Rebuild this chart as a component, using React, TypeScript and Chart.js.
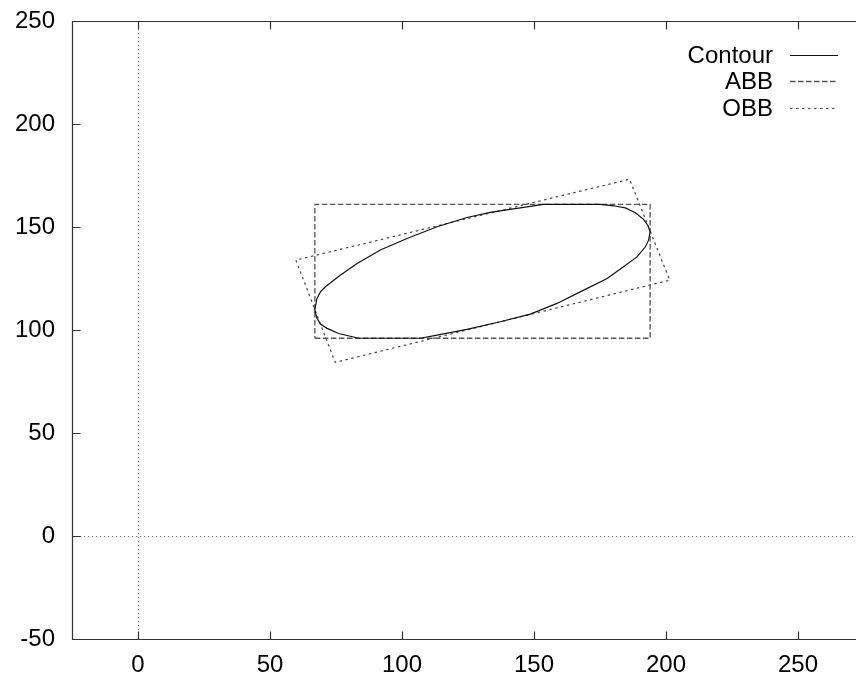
import React, { useEffect, useRef } from "react";
import { Chart, registerables } from "chart.js";

Chart.register(...registerables);

// ---- data ----
const xRange = [-25, 275];
const yRange = [-50, 250];
const xTickValues = [0, 50, 100, 150, 200, 250];
const yTickValues = [-50, 0, 50, 100, 150, 200, 250];

const seriesLabels = ["Contour", "ABB", "OBB"];

const contourX = [
  66.9, 67.8, 69.1, 71.0, 76.6, 83.0, 91.8, 101.9, 113.3, 124.6, 133.4, 153.6,
  175.1, 180.2, 184.6, 188.4, 191.5, 193.2, 194.0, 193.4, 192.2, 189.0, 183.9,
  177.7, 167.5, 158.7, 148.6, 137.2, 124.6, 113.3, 106.9, 83.6, 76.0, 71.6,
  69.1, 67.8, 66.9,
];
const contourY = [
  109.7, 115.3, 118.5, 121.0, 126.6, 132.3, 138.8, 144.4, 150.1, 154.6, 157.1,
  161.0, 161.0, 160.3, 159.3, 156.9, 153.7, 150.6, 147.6, 143.6, 140.4, 135.5,
  130.7, 125.0, 118.5, 112.9, 107.7, 104.0, 100.3, 97.5, 96.0, 96.0, 98.3,
  100.8, 102.9, 105.7, 109.7,
];

const abbX = [67, 194, 194, 67, 67];
const abbY = [96, 96, 161, 161, 96];

const obbX = [59.8, 74.7, 201.4, 186.2, 59.8];
const obbY = [133.9, 84.3, 124.2, 173.2, 133.9];

// ---- styling ----
const FONT = "'Liberation Sans', Arial, Helvetica, sans-serif";
const FONT_SIZE = 24;

const toPoints = (xs: number[], ys: number[]) =>
  xs.map((x, i) => ({ x, y: ys[i] }));

const gnuplotPlugin = {
  id: "gnuplotDecor",
  beforeDatasetsDraw(chart: any) {
    const { ctx, chartArea: a, scales } = chart;
    const xs = scales.x;
    const ys = scales.y;
    ctx.save();
    ctx.strokeStyle = "#777";
    ctx.lineWidth = 1;
    ctx.setLineDash([1.3, 2.7]);
    const x0 = Math.round(xs.getPixelForValue(0)) + 0.5;
    const y0 = Math.round(ys.getPixelForValue(0)) + 0.5;
    ctx.beginPath();
    ctx.moveTo(x0, a.top);
    ctx.lineTo(x0, a.bottom);
    ctx.moveTo(a.left, y0);
    ctx.lineTo(a.right, y0);
    ctx.stroke();
    ctx.restore();
  },
  afterDatasetsDraw(chart: any) {
    const { ctx, chartArea: a, scales } = chart;
    const xs = scales.x;
    const ys = scales.y;
    const L = Math.round(a.left) + 0.5;
    const R = Math.round(a.right) + 0.5;
    const T = Math.round(a.top) + 0.5;
    const B = Math.round(a.bottom) + 0.5;
    const tick = 8;
    ctx.save();
    ctx.setLineDash([]);
    ctx.strokeStyle = "#333";
    ctx.lineWidth = 1.2;
    ctx.beginPath();
    ctx.rect(L, T, R - L, B - T);
    for (const v of xTickValues) {
      const px = Math.round(xs.getPixelForValue(v)) + 0.5;
      ctx.moveTo(px, B);
      ctx.lineTo(px, B - tick);
      ctx.moveTo(px, T);
      ctx.lineTo(px, T + tick);
    }
    for (const v of yTickValues) {
      const py = Math.round(ys.getPixelForValue(v)) + 0.5;
      ctx.moveTo(L, py);
      ctx.lineTo(L + tick, py);
      ctx.moveTo(R, py);
      ctx.lineTo(R - tick, py);
    }
    ctx.stroke();

    // legend (gnuplot style: right-aligned text, sample line after it)
    const textRight = a.right - 91;
    const lineStart = a.right - 74;
    const lineEnd = a.right - 26;
    const rowTop = a.top + 33.5;
    const rowGap = 26.7;
    ctx.font = `${FONT_SIZE}px ${FONT}`;
    ctx.textAlign = "right";
    ctx.textBaseline = "middle";
    chart.data.datasets.forEach((ds: any, i: number) => {
      const yy = Math.round(rowTop + i * rowGap) + 0.5;
      ctx.fillStyle = "#000";
      ctx.fillText(ds.label, textRight, yy + 1);
      ctx.strokeStyle = ds.borderColor;
      ctx.lineWidth = ds.borderWidth;
      ctx.setLineDash(ds.borderDash || []);
      ctx.beginPath();
      ctx.moveTo(lineStart, yy);
      ctx.lineTo(lineEnd, yy);
      ctx.stroke();
    });
    ctx.restore();
  },
};

export default function App() {
  const canvasRef = useRef<HTMLCanvasElement | null>(null);

  useEffect(() => {
    if (!canvasRef.current) return;
    const chart = new Chart(canvasRef.current, {
      type: "scatter",
      data: {
        datasets: [
          {
            label: seriesLabels[0],
            data: toPoints(contourX, contourY),
            showLine: true,
            borderColor: "#111",
            borderWidth: 1.2,
            borderDash: [],
            pointRadius: 0,
            fill: false,
            tension: 0,
          },
          {
            label: seriesLabels[1],
            data: toPoints(abbX, abbY),
            showLine: true,
            borderColor: "#555",
            borderWidth: 1.3,
            borderDash: [5.5, 2.5],
            pointRadius: 0,
            fill: false,
            tension: 0,
          },
          {
            label: seriesLabels[2],
            data: toPoints(obbX, obbY),
            showLine: true,
            borderColor: "#444",
            borderWidth: 1.2,
            borderDash: [2.5, 3.5],
            pointRadius: 0,
            fill: false,
            tension: 0,
          },
        ],
      },
      options: {
        animation: false,
        responsive: false,
        maintainAspectRatio: false,
        layout: { padding: { left: 0, right: 8, top: 21, bottom: 0 } },
        plugins: {
          legend: { display: false },
          tooltip: { enabled: false },
        },
        scales: {
          x: {
            type: "linear",
            min: xRange[0],
            max: xRange[1],
            grid: { display: false, drawTicks: false },
            border: { display: false },
            ticks: {
              color: "#000",
              font: { family: FONT, size: FONT_SIZE },
              padding: 12,
              maxRotation: 0,
            },
            afterBuildTicks: (scale: any) => {
              scale.ticks = xTickValues.map((v) => ({ value: v }));
            },
            afterFit: (scale: any) => {
              scale.height = 38;
              scale.paddingLeft = 0;
              scale.paddingRight = 0;
            },
          },
          y: {
            type: "linear",
            min: yRange[0],
            max: yRange[1],
            grid: { display: false, drawTicks: false },
            border: { display: false },
            ticks: {
              color: "#000",
              font: { family: FONT, size: FONT_SIZE },
              padding: 17,
            },
            afterBuildTicks: (scale: any) => {
              scale.ticks = yTickValues.map((v) => ({ value: v }));
            },
            afterFit: (scale: any) => {
              scale.width = 72;
              scale.paddingTop = 0;
              scale.paddingBottom = 0;
            },
          },
        },
      },
      plugins: [gnuplotPlugin],
    });
    return () => chart.destroy();
  }, []);

  return (
    <div
      style={{
        position: "absolute",
        left: 0,
        top: 0,
        width: 856,
        height: 677,
        overflow: "hidden",
        background: "#fff",
      }}
    >
      <canvas
        ref={canvasRef}
        width={872}
        height={677}
        style={{ display: "block", width: 872, height: 677 }}
      />
    </div>
  );
}
